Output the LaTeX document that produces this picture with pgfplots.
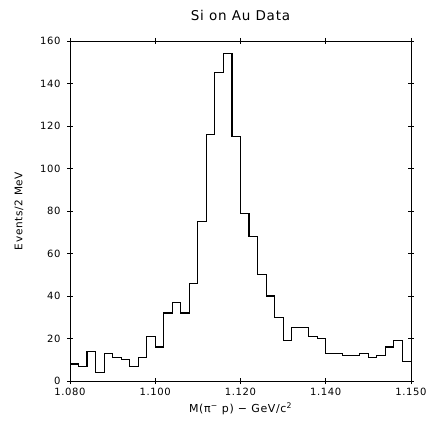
\documentclass[border=0pt]{standalone}
\usepackage{pgfplots}
\pgfplotsset{compat=1.18}
\usepackage{fontspec}
\setmainfont{DejaVu Sans}
\newfontfamily\widesans[LetterSpace=6]{DejaVu Sans}
\usetikzlibrary{calc}

% events per 2 MeV bin, left bin edge
\begin{document}
\begin{tikzpicture}
\begin{axis}[
    scale only axis,
    width=341pt, height=340pt,
    xmin=1.080, xmax=1.160,
    ymin=0, ymax=160,
    xtick={1.08,1.10,1.12,1.14,1.16},
    xticklabels={1.080,1.100,1.120,1.140,1.150},
    ytick={0,20,...,160},
    tick align=center,
    major tick length=6pt,
    tick style={black, line width=0.6pt},
    axis line style={line width=0.9pt},
    tick label style={font=\widesans\fontsize{10}{12}\selectfont},
    /pgf/number format/assume math mode=true,
    xticklabel style={yshift=-1pt},
    yticklabel style={xshift=-3pt},
    title={Si on Au Data},
    title style={font=\widesans\fontsize{13.5}{16}\selectfont, at={(0.5,1)}, anchor=center, yshift=20pt},
    xlabel={M(π\textsuperscript{−} p) − GeV/c\textsuperscript{2}},
    xlabel style={font=\widesans\fontsize{11}{13}\selectfont, at={(0.5,0)}, anchor=center, yshift=-28pt},
    ylabel={Events/2 MeV},
    ylabel style={font=\widesans\fontsize{10.5}{12}\selectfont, at={(0,0.5)}, anchor=center, yshift=51pt},
    clip=false,
]
\addplot[const plot mark left, black, line width=1.1pt] coordinates {
    (1.080,8) (1.082,7) (1.084,14) (1.086,4) (1.088,13)
    (1.090,11) (1.092,10) (1.094,7) (1.096,11) (1.098,21)
    (1.100,16) (1.102,32) (1.104,37) (1.106,32) (1.108,46)
    (1.110,75) (1.112,116) (1.114,145) (1.116,154) (1.118,115)
    (1.120,79) (1.122,68) (1.124,50) (1.126,40) (1.128,30)
    (1.130,19) (1.132,25) (1.134,25) (1.136,21) (1.138,20)
    (1.140,13) (1.142,13) (1.144,12) (1.146,12) (1.148,13)
    (1.150,11) (1.152,12) (1.154,16) (1.156,19) (1.158,9)
    (1.160,9)
};
\end{axis}
\path ($(current axis.south west)$) ++(-70pt,-41pt) coordinate (bl);
\useasboundingbox (bl) rectangle ($(bl)+(430pt,422pt)$);
\end{tikzpicture}
\end{document}
